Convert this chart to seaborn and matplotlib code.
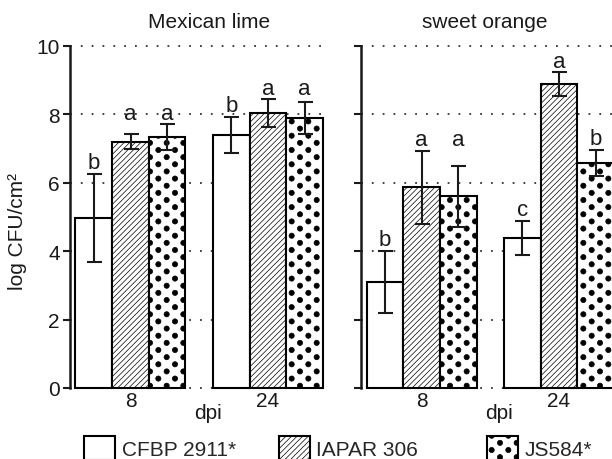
import numpy as np
import pandas as pd
import matplotlib
matplotlib.use("Agg")
import matplotlib.pyplot as plt
import matplotlib.hatch as mhatch
import matplotlib.patches as mpatches
from matplotlib.path import Path
import seaborn as sns

# ---------------- data ----------------
hosts = ["Mexican lime", "sweet orange"]
dpi_levels = ["8", "24"]
strains = ["CFBP 2911*", "IAPAR 306", "JS584*"]

# mean log CFU/cm2, order: [dpi 8 strains..., dpi 24 strains...]
lime_means = [4.97, 7.20, 7.33, 7.39, 8.04, 7.89]
lime_errs = [1.30, 0.22, 0.38, 0.53, 0.40, 0.46]
lime_letters = ["b", "a", "a", "b", "a", "a"]

orange_means = [3.10, 5.87, 5.60, 4.39, 8.88, 6.58]
orange_errs = [0.92, 1.07, 0.90, 0.49, 0.35, 0.37]
orange_letters = ["b", "a", "a", "c", "a", "b"]

yticks = [0, 2, 4, 6, 8, 10]


# ---------------- custom dot hatch ----------------
class DotHatch(mhatch.HatchPatternBase):
    radius = 0.026

    def __init__(self, hatch, density):
        n = hatch.count('.')
        self.ncol = 6 * n
        self.nrow = 14 * n
        circ = Path.unit_circle()
        self.sv = circ.vertices
        self.sc = circ.codes
        if n == 0:
            self.num_vertices = 0
        else:
            count = 0
            for r in range(self.nrow + 1):
                count += (self.ncol + 1) if r % 2 == 0 else self.ncol
            self.num_vertices = count * len(self.sv)

    def set_vertices_and_codes(self, vertices, codes):
        dx = 1.0 / self.ncol
        dy = 1.0 / self.nrow
        sv = self.sv * self.radius
        vp, cp = [], []
        for r in range(self.nrow + 1):
            if r % 2 == 0:
                cols = np.linspace(0, 1, self.ncol + 1)
            else:
                cols = np.linspace(dx / 2, 1 - dx / 2, self.ncol)
            for c in cols:
                vp.append(sv + [c, r * dy])
                cp.append(self.sc)
        np.concatenate(vp, out=vertices)
        np.concatenate(cp, out=codes)


mhatch._hatch_types = [DotHatch if t is mhatch.SmallFilledCircles else t
                       for t in mhatch._hatch_types]

# ---------------- style ----------------
sns.set_theme(style="white")
plt.rcParams["font.family"] = ["Liberation Sans", "DejaVu Sans"]
plt.rcParams["hatch.color"] = "black"
plt.rcParams["hatch.linewidth"] = 0.5

hatches = ["", "//////", "."]

rows = []
for host, means, errs in [(hosts[0], lime_means, lime_errs),
                          (hosts[1], orange_means, orange_errs)]:
    k = 0
    for d in dpi_levels:
        for s in strains:
            rows.append(dict(host=host, dpi=d, strain=s, value=means[k], err=errs[k]))
            k += 1
df = pd.DataFrame(rows)
letters_by_host = {hosts[0]: lime_letters, hosts[1]: orange_letters}

fig = plt.figure(figsize=(6.12, 4.6), dpi=100)
W = 253 / 612
ax_pos = [[70 / 612, 1 - 389 / 460, W, 342 / 460],
          [361 / 612, 1 - 389 / 460, W, 342 / 460]]
title_x = [209.5 / 612, 485 / 612]

for i, host in enumerate(hosts):
    ax = fig.add_axes(ax_pos[i])
    sub = df[df.host == host]
    sns.barplot(data=sub, x="dpi", y="value", hue="strain", order=dpi_levels,
                hue_order=strains, palette={s: "white" for s in strains},
                saturation=1, edgecolor="black", linewidth=1.5, errorbar=None,
                legend=False, width=0.8, ax=ax, zorder=2)
    letters = letters_by_host[host]
    xs = np.zeros(6)
    for j, cont in enumerate(ax.containers):
        for g, p in enumerate(cont.patches):
            p.set_hatch(hatches[j])
            p.set_clip_on(False)
            xs[g * 3 + j] = p.get_x() + p.get_width() / 2
    vals = []
    for g, d in enumerate(dpi_levels):
        for j, s in enumerate(strains):
            r = sub[(sub.dpi == d) & (sub.strain == s)].iloc[0]
            vals.append((r.value, r.err))
    vals = np.array(vals)
    ax.errorbar(xs, vals[:, 0], yerr=vals[:, 1], fmt="none", ecolor="#1a1a1a",
                elinewidth=1.5, capsize=5.4, capthick=1.5, zorder=4, clip_on=False)
    # significance letters: same letter within a dpi group aligned at max cap
    tops = vals[:, 0] + vals[:, 1]
    for g in range(2):
        for j in range(3):
            k = g * 3 + j
            same = [g * 3 + m for m in range(3) if letters[g * 3 + m] == letters[k]]
            ytxt = max(tops[same]) + 0.17
            ax.text(xs[k], ytxt, letters[k], ha="center", va="baseline",
                    fontsize=16, color="#1a1a1a")

    ax.set_xlim(-0.44, 1.40)
    ax.set_ylim(0, 10)
    ax.set_yticks(yticks)
    if i == 0:
        ax.set_yticklabels([str(t) for t in yticks], fontsize=15)
    else:
        ax.set_yticklabels([])
    ax.set_ylabel("")
    ax.set_xlabel("dpi", fontsize=15, color="#1a1a1a")
    ax.xaxis.set_label_coords(0.547, -0.045)
    ax.tick_params(axis="x", length=0, pad=2, labelsize=15, colors="#1a1a1a")
    ax.tick_params(axis="y", length=5.3, width=1.5, pad=2, direction="out",
                   left=True, colors="#1a1a1a")
    for side in ["top", "right", "bottom"]:
        ax.spines[side].set_visible(False)
    ax.spines["left"].set_linewidth(1.8)
    ax.spines["left"].set_color("#1a1a1a")
    ax.yaxis.grid(True, linestyle=(0, (1, 5)), linewidth=1.3, color="#333333")
    ax.xaxis.grid(False)
    for gl in ax.get_ygridlines():
        gl.set_clip_on(False)
    ax.set_axisbelow(True)
    fig.text(title_x[i], 1 - 28 / 460, host, ha="center", va="baseline",
             fontsize=15, color="#1a1a1a")

fig.text(18 / 612, 1 - 232 / 460, "log CFU/cm²", rotation=90, ha="center",
         va="center", fontsize=15, color="#1a1a1a")

# legend, one entry per strain
leg_x = [84, 279, 487]
for j, s in enumerate(strains):
    h = mpatches.Patch(facecolor="white", edgecolor="black", linewidth=1.5,
                       hatch=hatches[j], label=s)
    fig.legend(handles=[h], loc="upper left",
               bbox_to_anchor=(leg_x[j] / 612, 1 - 437 / 460),
               frameon=False, fontsize=15, handlelength=1.5, handleheight=1.4,
               handletextpad=0.3, borderpad=0, borderaxespad=0)

fig.savefig("out.png", dpi=100)
